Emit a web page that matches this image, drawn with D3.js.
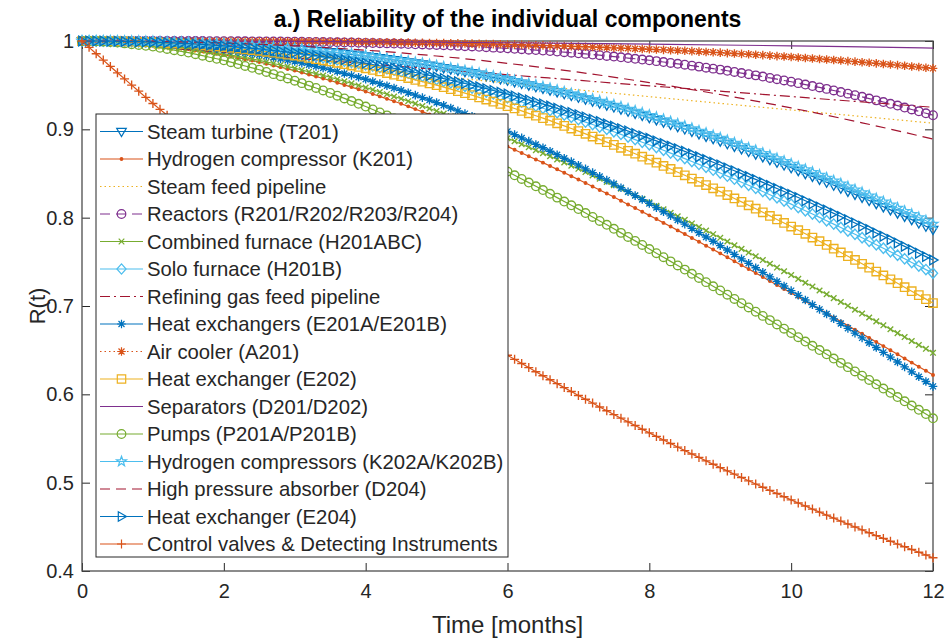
<!DOCTYPE html>
<meta charset="utf-8">
<style>
body { margin: 0; background: #fff; }
svg text { font-family: "Liberation Sans", Arial, sans-serif; }
</style>
<body>
<script src="https://d3js.org/d3.v7.min.js"></script>
<script>
var width = 949,
	height = 642,
	plotLeft = 82,
	plotRight = 933,
	plotTop = 41,
	plotBottom = 571;

// sample times: every 0.1 month for the marked curves, every month for the plain ones
var tFine = d3.range(121).map(function(i) { return i / 10; });
var tMonth = [0, 1, 2, 3, 4, 5, 6, 7, 8, 9, 10, 11, 12];
var xTicks = [0, 2, 4, 6, 8, 10, 12];
var yTicks = [0.4, 0.5, 0.6, 0.7, 0.8, 0.9, 1];

var names = [
	"Steam turbine (T201)",
	"Hydrogen compressor (K201)",
	"Steam feed pipeline",
	"Reactors (R201/R202/R203/R204)",
	"Combined furnace (H201ABC)",
	"Solo furnace (H201B)",
	"Refining gas feed pipeline",
	"Heat exchangers (E201A/E201B)",
	"Air cooler (A201)",
	"Heat exchanger (E202)",
	"Separators (D201/D202)",
	"Pumps (P201A/P201B)",
	"Hydrogen compressors (K202A/K202B)",
	"High pressure absorber (D204)",
	"Heat exchanger (E204)",
	"Control valves & Detecting Instruments"
];

var steamTurbine = [
	1, 1, 1, 1, 0.9999, 0.9999, 0.9998, 0.9997, 0.9996, 0.9995,
	0.9994, 0.9992, 0.9990, 0.9988, 0.9986, 0.9984, 0.9981, 0.9978, 0.9974, 0.9971,
	0.9968, 0.9963, 0.9959, 0.9954, 0.9950, 0.9945, 0.9939, 0.9933, 0.9926, 0.9920,
	0.9914, 0.9906, 0.9899, 0.9891, 0.9884, 0.9876, 0.9867, 0.9858, 0.9848, 0.9839,
	0.9830, 0.9819, 0.9808, 0.9797, 0.9786, 0.9775, 0.9762, 0.9749, 0.9737, 0.9724,
	0.9711, 0.9696, 0.9682, 0.9667, 0.9653, 0.9638, 0.9622, 0.9605, 0.9589, 0.9572,
	0.9556, 0.9538, 0.9519, 0.9501, 0.9482, 0.9464, 0.9444, 0.9424, 0.9403, 0.9383,
	0.9363, 0.9341, 0.9319, 0.9297, 0.9275, 0.9253, 0.9229, 0.9205, 0.9181, 0.9157,
	0.9133, 0.9107, 0.9081, 0.9056, 0.9030, 0.9004, 0.8976, 0.8949, 0.8921, 0.8894,
	0.8866, 0.8837, 0.8808, 0.8778, 0.8749, 0.8720, 0.8689, 0.8658, 0.8627, 0.8596,
	0.8565, 0.8532, 0.8499, 0.8467, 0.8434, 0.8401, 0.8367, 0.8333, 0.8298, 0.8264,
	0.8230, 0.8194, 0.8159, 0.8123, 0.8088, 0.8052, 0.8015, 0.7978, 0.7940, 0.7903,
	0.7866
];

var hydrogenCompressor = [
	1, 0.9999, 0.9998, 0.9996, 0.9993, 0.9989, 0.9983, 0.9977, 0.9970, 0.9964,
	0.9958, 0.9948, 0.9938, 0.9929, 0.9919, 0.9909, 0.9896, 0.9883, 0.9869, 0.9856,
	0.9843, 0.9827, 0.9811, 0.9794, 0.9778, 0.9762, 0.9743, 0.9723, 0.9704, 0.9684,
	0.9665, 0.9643, 0.9620, 0.9598, 0.9575, 0.9553, 0.9528, 0.9503, 0.9478, 0.9453,
	0.9428, 0.9400, 0.9373, 0.9345, 0.9318, 0.9290, 0.9260, 0.9229, 0.9199, 0.9169,
	0.9139, 0.9107, 0.9074, 0.9042, 0.9009, 0.8977, 0.8943, 0.8908, 0.8874, 0.8839,
	0.8805, 0.8769, 0.8732, 0.8696, 0.8659, 0.8623, 0.8585, 0.8547, 0.8508, 0.8470,
	0.8432, 0.8392, 0.8352, 0.8313, 0.8273, 0.8233, 0.8192, 0.8150, 0.8109, 0.8067,
	0.8026, 0.7984, 0.7941, 0.7899, 0.7856, 0.7814, 0.7770, 0.7727, 0.7683, 0.7640,
	0.7596, 0.7551, 0.7507, 0.7462, 0.7418, 0.7373, 0.7328, 0.7283, 0.7237, 0.7192,
	0.7147, 0.7101, 0.7055, 0.7009, 0.6963, 0.6917, 0.6871, 0.6825, 0.6778, 0.6732,
	0.6686, 0.6639, 0.6593, 0.6546, 0.6500, 0.6453, 0.6406, 0.6359, 0.6313, 0.6266,
	0.6219
];

var steamFeedPipeline = [1, 0.9919, 0.9839, 0.9759, 0.9680, 0.9602, 0.9524, 0.9447, 0.9370, 0.9294, 0.9219, 0.9145, 0.9070];

var reactors = [
	1, 1, 1, 1, 1, 1, 1, 1, 1, 1,
	1, 1, 1, 1, 0.9999, 0.9999, 0.9999, 0.9999, 0.9998, 0.9998,
	0.9998, 0.9998, 0.9997, 0.9997, 0.9996, 0.9996, 0.9995, 0.9994, 0.9994, 0.9993,
	0.9992, 0.9991, 0.9990, 0.9989, 0.9988, 0.9987, 0.9985, 0.9984, 0.9982, 0.9981,
	0.9979, 0.9977, 0.9975, 0.9973, 0.9971, 0.9969, 0.9966, 0.9963, 0.9961, 0.9958,
	0.9955, 0.9952, 0.9948, 0.9945, 0.9941, 0.9938, 0.9934, 0.9930, 0.9925, 0.9921,
	0.9917, 0.9912, 0.9907, 0.9902, 0.9897, 0.9892, 0.9886, 0.9880, 0.9873, 0.9867,
	0.9861, 0.9854, 0.9846, 0.9839, 0.9831, 0.9824, 0.9816, 0.9807, 0.9799, 0.9790,
	0.9782, 0.9772, 0.9762, 0.9752, 0.9742, 0.9732, 0.9721, 0.9710, 0.9698, 0.9687,
	0.9676, 0.9663, 0.9650, 0.9637, 0.9624, 0.9611, 0.9597, 0.9582, 0.9568, 0.9553,
	0.9539, 0.9523, 0.9507, 0.9490, 0.9474, 0.9458, 0.9440, 0.9422, 0.9404, 0.9386,
	0.9368, 0.9348, 0.9328, 0.9309, 0.9289, 0.9269, 0.9247, 0.9225, 0.9204, 0.9182,
	0.9160
];

var combinedFurnace = [
	1, 1, 0.9998, 0.9996, 0.9993, 0.9990, 0.9984, 0.9978, 0.9973, 0.9967,
	0.9961, 0.9952, 0.9943, 0.9935, 0.9926, 0.9917, 0.9905, 0.9893, 0.9880, 0.9868,
	0.9856, 0.9841, 0.9826, 0.9811, 0.9796, 0.9781, 0.9763, 0.9745, 0.9728, 0.9710,
	0.9692, 0.9672, 0.9651, 0.9631, 0.9610, 0.9590, 0.9567, 0.9544, 0.9520, 0.9497,
	0.9474, 0.9449, 0.9423, 0.9398, 0.9372, 0.9347, 0.9319, 0.9291, 0.9264, 0.9236,
	0.9208, 0.9178, 0.9148, 0.9119, 0.9089, 0.9059, 0.9027, 0.8995, 0.8963, 0.8931,
	0.8899, 0.8865, 0.8831, 0.8798, 0.8764, 0.8730, 0.8695, 0.8659, 0.8624, 0.8588,
	0.8553, 0.8516, 0.8479, 0.8441, 0.8404, 0.8367, 0.8329, 0.8290, 0.8252, 0.8213,
	0.8175, 0.8135, 0.8095, 0.8056, 0.8016, 0.7976, 0.7935, 0.7894, 0.7854, 0.7813,
	0.7772, 0.7730, 0.7688, 0.7647, 0.7605, 0.7563, 0.7520, 0.7478, 0.7435, 0.7393,
	0.7350, 0.7307, 0.7263, 0.7220, 0.7176, 0.7133, 0.7089, 0.7045, 0.7002, 0.6958,
	0.6914, 0.6870, 0.6826, 0.6781, 0.6737, 0.6693, 0.6648, 0.6604, 0.6559, 0.6515,
	0.6470
];

var soloFurnace = [
	1, 1, 1, 0.9999, 0.9998, 0.9997, 0.9995, 0.9993, 0.9991, 0.9989,
	0.9987, 0.9983, 0.9980, 0.9976, 0.9973, 0.9969, 0.9963, 0.9958, 0.9952, 0.9947,
	0.9941, 0.9934, 0.9926, 0.9919, 0.9911, 0.9904, 0.9895, 0.9885, 0.9876, 0.9866,
	0.9857, 0.9845, 0.9834, 0.9822, 0.9811, 0.9799, 0.9786, 0.9772, 0.9759, 0.9745,
	0.9732, 0.9716, 0.9701, 0.9685, 0.9670, 0.9654, 0.9636, 0.9618, 0.9601, 0.9583,
	0.9565, 0.9545, 0.9526, 0.9506, 0.9487, 0.9467, 0.9445, 0.9423, 0.9402, 0.9380,
	0.9358, 0.9334, 0.9310, 0.9287, 0.9263, 0.9239, 0.9213, 0.9187, 0.9162, 0.9136,
	0.9110, 0.9082, 0.9055, 0.9027, 0.9000, 0.8972, 0.8943, 0.8913, 0.8884, 0.8854,
	0.8825, 0.8794, 0.8763, 0.8731, 0.8700, 0.8669, 0.8636, 0.8603, 0.8571, 0.8538,
	0.8505, 0.8470, 0.8436, 0.8401, 0.8367, 0.8332, 0.8296, 0.8260, 0.8225, 0.8189,
	0.8153, 0.8116, 0.8078, 0.8041, 0.8003, 0.7966, 0.7927, 0.7889, 0.7850, 0.7812,
	0.7773, 0.7733, 0.7694, 0.7654, 0.7615, 0.7575, 0.7534, 0.7493, 0.7453, 0.7412,
	0.7371
];

var refiningGasPipeline = [1, 0.9935, 0.9871, 0.9807, 0.9743, 0.9680, 0.9618, 0.9555, 0.9493, 0.9432, 0.9371, 0.9310, 0.9250];

var heatExchangersE201 = [
	1, 1, 0.9999, 0.9998, 0.9997, 0.9995, 0.9992, 0.9989, 0.9985, 0.9982,
	0.9979, 0.9973, 0.9967, 0.9961, 0.9955, 0.9949, 0.9940, 0.9931, 0.9922, 0.9913,
	0.9904, 0.9892, 0.9880, 0.9868, 0.9856, 0.9844, 0.9829, 0.9814, 0.9798, 0.9783,
	0.9768, 0.9750, 0.9731, 0.9713, 0.9694, 0.9676, 0.9654, 0.9632, 0.9611, 0.9589,
	0.9567, 0.9542, 0.9517, 0.9493, 0.9468, 0.9443, 0.9415, 0.9387, 0.9359, 0.9331,
	0.9303, 0.9272, 0.9241, 0.9209, 0.9178, 0.9147, 0.9113, 0.9079, 0.9045, 0.9011,
	0.8977, 0.8940, 0.8903, 0.8866, 0.8829, 0.8792, 0.8752, 0.8713, 0.8673, 0.8634,
	0.8594, 0.8552, 0.8510, 0.8467, 0.8425, 0.8383, 0.8339, 0.8294, 0.8250, 0.8205,
	0.8161, 0.8114, 0.8067, 0.8021, 0.7974, 0.7927, 0.7878, 0.7830, 0.7781, 0.7733,
	0.7684, 0.7634, 0.7584, 0.7533, 0.7483, 0.7433, 0.7381, 0.7329, 0.7278, 0.7226,
	0.7174, 0.7121, 0.7068, 0.7015, 0.6962, 0.6909, 0.6855, 0.6801, 0.6747, 0.6693,
	0.6639, 0.6584, 0.6530, 0.6475, 0.6421, 0.6366, 0.6311, 0.6255, 0.6200, 0.6145,
	0.6090
];

var airCooler = [
	1, 1, 1, 1, 1, 1, 1, 1, 1, 1,
	1, 1, 1, 1, 0.9999, 0.9999, 0.9999, 0.9999, 0.9999, 0.9999,
	0.9999, 0.9999, 0.9998, 0.9998, 0.9998, 0.9997, 0.9997, 0.9996, 0.9996, 0.9995,
	0.9995, 0.9994, 0.9994, 0.9993, 0.9993, 0.9992, 0.9991, 0.9990, 0.9990, 0.9989,
	0.9988, 0.9987, 0.9986, 0.9985, 0.9984, 0.9983, 0.9982, 0.9981, 0.9979, 0.9978,
	0.9977, 0.9976, 0.9974, 0.9973, 0.9971, 0.9970, 0.9968, 0.9966, 0.9965, 0.9963,
	0.9961, 0.9959, 0.9957, 0.9954, 0.9952, 0.9950, 0.9948, 0.9945, 0.9943, 0.9940,
	0.9938, 0.9935, 0.9932, 0.9929, 0.9926, 0.9923, 0.9920, 0.9917, 0.9913, 0.9910,
	0.9907, 0.9903, 0.9900, 0.9896, 0.9893, 0.9889, 0.9885, 0.9880, 0.9876, 0.9872,
	0.9868, 0.9863, 0.9859, 0.9854, 0.9850, 0.9845, 0.9840, 0.9835, 0.9829, 0.9824,
	0.9819, 0.9813, 0.9808, 0.9802, 0.9797, 0.9791, 0.9785, 0.9779, 0.9772, 0.9766,
	0.9760, 0.9753, 0.9747, 0.9740, 0.9734, 0.9727, 0.9720, 0.9712, 0.9705, 0.9697,
	0.9690
];

var heatExchangerE202 = [
	1, 1, 1, 0.9999, 0.9998, 0.9997, 0.9995, 0.9992, 0.9990, 0.9987,
	0.9985, 0.9981, 0.9977, 0.9972, 0.9968, 0.9964, 0.9958, 0.9951, 0.9945, 0.9938,
	0.9932, 0.9923, 0.9915, 0.9906, 0.9898, 0.9889, 0.9878, 0.9867, 0.9857, 0.9846,
	0.9835, 0.9822, 0.9809, 0.9795, 0.9782, 0.9769, 0.9753, 0.9738, 0.9722, 0.9707,
	0.9691, 0.9673, 0.9655, 0.9637, 0.9619, 0.9601, 0.9581, 0.9560, 0.9540, 0.9520,
	0.9500, 0.9477, 0.9455, 0.9432, 0.9410, 0.9387, 0.9362, 0.9337, 0.9313, 0.9288,
	0.9263, 0.9236, 0.9209, 0.9181, 0.9154, 0.9127, 0.9098, 0.9068, 0.9039, 0.9009,
	0.8980, 0.8949, 0.8918, 0.8886, 0.8855, 0.8824, 0.8791, 0.8757, 0.8724, 0.8690,
	0.8657, 0.8622, 0.8586, 0.8551, 0.8515, 0.8480, 0.8443, 0.8406, 0.8369, 0.8332,
	0.8295, 0.8256, 0.8217, 0.8179, 0.8140, 0.8101, 0.8061, 0.8020, 0.7980, 0.7940,
	0.7900, 0.7858, 0.7817, 0.7775, 0.7734, 0.7692, 0.7649, 0.7606, 0.7564, 0.7521,
	0.7478, 0.7434, 0.7390, 0.7346, 0.7302, 0.7258, 0.7213, 0.7168, 0.7123, 0.7078,
	0.7033
];

var separators = [1, 0.9999, 0.9998, 0.9995, 0.9991, 0.9986, 0.9980, 0.9973, 0.9964, 0.9955, 0.9945, 0.9933, 0.9920];

var pumps = [
	1, 0.9999, 0.9997, 0.9993, 0.9988, 0.9982, 0.9973, 0.9964, 0.9955, 0.9946,
	0.9937, 0.9923, 0.9910, 0.9896, 0.9883, 0.9869, 0.9851, 0.9834, 0.9816, 0.9799,
	0.9781, 0.9760, 0.9739, 0.9717, 0.9696, 0.9675, 0.9650, 0.9625, 0.9601, 0.9576,
	0.9551, 0.9523, 0.9495, 0.9468, 0.9440, 0.9412, 0.9381, 0.9350, 0.9320, 0.9289,
	0.9258, 0.9225, 0.9191, 0.9158, 0.9124, 0.9091, 0.9055, 0.9019, 0.8984, 0.8948,
	0.8912, 0.8874, 0.8836, 0.8798, 0.8760, 0.8722, 0.8682, 0.8642, 0.8602, 0.8562,
	0.8522, 0.8480, 0.8438, 0.8397, 0.8355, 0.8313, 0.8270, 0.8227, 0.8183, 0.8140,
	0.8097, 0.8052, 0.8008, 0.7963, 0.7919, 0.7874, 0.7828, 0.7782, 0.7737, 0.7691,
	0.7645, 0.7598, 0.7552, 0.7505, 0.7459, 0.7412, 0.7365, 0.7318, 0.7270, 0.7223,
	0.7176, 0.7128, 0.7080, 0.7032, 0.6984, 0.6936, 0.6888, 0.6840, 0.6791, 0.6743,
	0.6695, 0.6647, 0.6598, 0.6550, 0.6501, 0.6453, 0.6405, 0.6356, 0.6308, 0.6259,
	0.6211, 0.6163, 0.6114, 0.6066, 0.6017, 0.5969, 0.5921, 0.5873, 0.5825, 0.5777,
	0.5729
];

var hydrogenCompressorsK202 = [
	1, 1, 1, 1, 0.9999, 0.9999, 0.9998, 0.9997, 0.9996, 0.9995,
	0.9994, 0.9992, 0.9990, 0.9988, 0.9986, 0.9984, 0.9981, 0.9978, 0.9975, 0.9972,
	0.9969, 0.9964, 0.9960, 0.9955, 0.9951, 0.9946, 0.9940, 0.9934, 0.9929, 0.9923,
	0.9917, 0.9910, 0.9902, 0.9895, 0.9887, 0.9880, 0.9871, 0.9862, 0.9853, 0.9844,
	0.9835, 0.9824, 0.9814, 0.9803, 0.9793, 0.9782, 0.9770, 0.9757, 0.9745, 0.9732,
	0.9720, 0.9706, 0.9692, 0.9678, 0.9664, 0.9650, 0.9634, 0.9618, 0.9602, 0.9586,
	0.9570, 0.9552, 0.9534, 0.9517, 0.9499, 0.9481, 0.9462, 0.9442, 0.9423, 0.9403,
	0.9384, 0.9363, 0.9341, 0.9320, 0.9298, 0.9277, 0.9254, 0.9231, 0.9207, 0.9184,
	0.9161, 0.9136, 0.9111, 0.9086, 0.9061, 0.9036, 0.9009, 0.8982, 0.8956, 0.8929,
	0.8902, 0.8874, 0.8845, 0.8817, 0.8788, 0.8760, 0.8730, 0.8700, 0.8669, 0.8639,
	0.8609, 0.8577, 0.8545, 0.8514, 0.8482, 0.8450, 0.8417, 0.8384, 0.8350, 0.8317,
	0.8284, 0.8249, 0.8214, 0.8180, 0.8145, 0.8110, 0.8074, 0.8038, 0.8001, 0.7965,
	0.7929
];

var highPressureAbsorber = [1, 0.9995, 0.9977, 0.9944, 0.9896, 0.9830, 0.9747, 0.9647, 0.9529, 0.9394, 0.9242, 0.9074, 0.8890];

var heatExchangerE204 = [
	1, 1, 1, 0.9999, 0.9998, 0.9997, 0.9995, 0.9993, 0.9992, 0.9990,
	0.9988, 0.9985, 0.9981, 0.9978, 0.9974, 0.9971, 0.9966, 0.9961, 0.9955, 0.9950,
	0.9945, 0.9938, 0.9931, 0.9924, 0.9917, 0.9910, 0.9901, 0.9892, 0.9884, 0.9875,
	0.9866, 0.9855, 0.9844, 0.9834, 0.9823, 0.9812, 0.9799, 0.9787, 0.9774, 0.9761,
	0.9749, 0.9734, 0.9720, 0.9705, 0.9691, 0.9676, 0.9659, 0.9643, 0.9626, 0.9610,
	0.9593, 0.9575, 0.9556, 0.9538, 0.9519, 0.9501, 0.9481, 0.9460, 0.9440, 0.9419,
	0.9399, 0.9377, 0.9354, 0.9332, 0.9309, 0.9287, 0.9263, 0.9239, 0.9214, 0.9190,
	0.9166, 0.9140, 0.9114, 0.9088, 0.9062, 0.9036, 0.9008, 0.8981, 0.8953, 0.8926,
	0.8898, 0.8869, 0.8839, 0.8810, 0.8780, 0.8751, 0.8720, 0.8689, 0.8658, 0.8627,
	0.8596, 0.8563, 0.8531, 0.8498, 0.8465, 0.8433, 0.8399, 0.8365, 0.8331, 0.8297,
	0.8263, 0.8228, 0.8192, 0.8157, 0.8121, 0.8086, 0.8049, 0.8013, 0.7976, 0.7940,
	0.7903, 0.7865, 0.7827, 0.7790, 0.7752, 0.7714, 0.7675, 0.7636, 0.7598, 0.7559,
	0.7520
];

var controlValves = [
	1, 0.9928, 0.9856, 0.9784, 0.9712, 0.9640, 0.9571, 0.9501, 0.9432, 0.9362,
	0.9293, 0.9226, 0.9159, 0.9093, 0.9026, 0.8959, 0.8895, 0.8830, 0.8766, 0.8701,
	0.8637, 0.8575, 0.8513, 0.8450, 0.8388, 0.8326, 0.8266, 0.8206, 0.8146, 0.8086,
	0.8026, 0.7968, 0.7910, 0.7853, 0.7795, 0.7737, 0.7681, 0.7626, 0.7570, 0.7515,
	0.7459, 0.7405, 0.7352, 0.7298, 0.7245, 0.7191, 0.7139, 0.7087, 0.7036, 0.6984,
	0.6932, 0.6882, 0.6832, 0.6782, 0.6732, 0.6682, 0.6634, 0.6586, 0.6538, 0.6490,
	0.6442, 0.6396, 0.6349, 0.6303, 0.6256, 0.6210, 0.6165, 0.6121, 0.6076, 0.6032,
	0.5987, 0.5944, 0.5901, 0.5857, 0.5814, 0.5771, 0.5730, 0.5688, 0.5647, 0.5605,
	0.5564, 0.5524, 0.5483, 0.5443, 0.5403, 0.5363, 0.5324, 0.5286, 0.5247, 0.5209,
	0.5170, 0.5133, 0.5096, 0.5058, 0.5021, 0.4984, 0.4948, 0.4912, 0.4877, 0.4841,
	0.4805, 0.4770, 0.4736, 0.4701, 0.4667, 0.4632, 0.4599, 0.4565, 0.4532, 0.4498,
	0.4465, 0.4433, 0.4401, 0.4369, 0.4337, 0.4305, 0.4274, 0.4243, 0.4212, 0.4181,
	0.4150
];

var seriesValues = [
	steamTurbine, hydrogenCompressor, steamFeedPipeline, reactors,
	combinedFurnace, soloFurnace, refiningGasPipeline, heatExchangersE201,
	airCooler, heatExchangerE202, separators, pumps,
	hydrogenCompressorsK202, highPressureAbsorber, heatExchangerE204, controlValves
];

// matlab default colour order, line style and marker per series
var styles = [
	{color: "#0072BD", dash: null, marker: "v"},
	{color: "#D95319", dash: null, marker: "."},
	{color: "#EDB120", dash: "1.5,3", marker: null},
	{color: "#7E2F8E", dash: "10,6", marker: "o"},
	{color: "#77AC30", dash: null, marker: "x"},
	{color: "#4DBEEE", dash: null, marker: "d"},
	{color: "#A2142F", dash: "10,4,2,4", marker: null},
	{color: "#0072BD", dash: null, marker: "*"},
	{color: "#D95319", dash: "1.5,3", marker: "*"},
	{color: "#EDB120", dash: null, marker: "s"},
	{color: "#7E2F8E", dash: null, marker: null},
	{color: "#77AC30", dash: null, marker: "o"},
	{color: "#4DBEEE", dash: null, marker: "p"},
	{color: "#A2142F", dash: "10,6", marker: null},
	{color: "#0072BD", dash: null, marker: ">"},
	{color: "#D95319", dash: null, marker: "+"}
];

var x = d3.scaleLinear().domain([0, 12]).range([plotLeft, plotRight]);
var y = d3.scaleLinear().domain([0.4, 1]).range([plotBottom, plotTop]);

var svg = d3.select("body").append("svg")
			.attr("width", width)
			.attr("height", height)
			.style("background", "#fff");

var axisColor = "#262626";

function styleAxis(g) {
	g.select(".domain").remove();
	g.selectAll(".tick line").attr("stroke", axisColor).attr("stroke-width", 1);
	g.selectAll("text")
		.attr("font-family", "Liberation Sans, Arial, sans-serif")
		.attr("font-size", 20)
		.attr("fill", axisColor);
}

svg.append("g")
	.attr("transform", "translate(0," + plotBottom + ")")
	.call(d3.axisBottom(x).tickValues(xTicks).tickSize(-8).tickSizeOuter(0).tickPadding(13)
		.tickFormat(function(d) { return String(d); }))
	.call(styleAxis);

svg.append("g")
	.attr("transform", "translate(0," + plotTop + ")")
	.call(d3.axisTop(x).tickValues(xTicks).tickSize(-8).tickSizeOuter(0).tickFormat(""))
	.call(styleAxis);

svg.append("g")
	.attr("transform", "translate(" + plotLeft + ",0)")
	.call(d3.axisLeft(y).tickValues(yTicks).tickSize(-8).tickSizeOuter(0).tickPadding(8)
		.tickFormat(function(d) { return String(d); }))
	.call(styleAxis);

svg.append("g")
	.attr("transform", "translate(" + plotRight + ",0)")
	.call(d3.axisRight(y).tickValues(yTicks).tickSize(-8).tickSizeOuter(0).tickFormat(""))
	.call(styleAxis);

svg.append("rect")
	.attr("x", plotLeft)
	.attr("y", plotTop)
	.attr("width", plotRight - plotLeft)
	.attr("height", plotBottom - plotTop)
	.style("fill", "none")
	.style("stroke", "#4d4d4d")
	.style("stroke-width", 1.3);

svg.append("text")
	.attr("x", (plotLeft + plotRight) / 2)
	.attr("y", 27)
	.attr("text-anchor", "middle")
	.attr("font-size", 23)
	.attr("font-weight", "bold")
	.attr("fill", "#000")
	.text("a.) Reliability of the individual components");

svg.append("text")
	.attr("x", (plotLeft + plotRight) / 2)
	.attr("y", 633)
	.attr("text-anchor", "middle")
	.attr("font-size", 24)
	.attr("fill", axisColor)
	.text("Time [months]");

svg.append("text")
	.attr("transform", "translate(45," + (plotTop + plotBottom) / 2 + ")rotate(-90)")
	.attr("text-anchor", "middle")
	.attr("font-size", 22)
	.attr("fill", axisColor)
	.text("R(t)");

function markerD(type) {
	var p = d3.path(), i, a, r;
	if (type === "o") {
		p.moveTo(4.3, 0); p.arc(0, 0, 4.3, 0, 2 * Math.PI);
	} else if (type === ".") {
		p.moveTo(1.3, 0); p.arc(0, 0, 1.3, 0, 2 * Math.PI);
	} else if (type === "s") {
		p.rect(-4.2, -4.2, 8.4, 8.4);
	} else if (type === "d") {
		p.moveTo(0, -5.2); p.lineTo(4.6, 0); p.lineTo(0, 5.2); p.lineTo(-4.6, 0); p.closePath();
	} else if (type === "v") {
		p.moveTo(-4.8, -3.2); p.lineTo(4.8, -3.2); p.lineTo(0, 5); p.closePath();
	} else if (type === ">") {
		p.moveTo(-3.2, -4.8); p.lineTo(-3.2, 4.8); p.lineTo(5, 0); p.closePath();
	} else if (type === "x") {
		p.moveTo(-2.8, -2.8); p.lineTo(2.8, 2.8); p.moveTo(-2.8, 2.8); p.lineTo(2.8, -2.8);
	} else if (type === "+") {
		p.moveTo(-4.5, 0); p.lineTo(4.5, 0); p.moveTo(0, -4.5); p.lineTo(0, 4.5);
	} else if (type === "*") {
		p.moveTo(-4.3, 0); p.lineTo(4.3, 0); p.moveTo(0, -4.3); p.lineTo(0, 4.3);
		p.moveTo(-3, -3); p.lineTo(3, 3); p.moveTo(-3, 3); p.lineTo(3, -3);
	} else if (type === "p") {
		for (i = 0; i < 10; i++) {
			a = -Math.PI / 2 + i * Math.PI / 5;
			r = i % 2 ? 2.1 : 5.2;
			if (i === 0) p.moveTo(r * Math.cos(a), r * Math.sin(a));
			else p.lineTo(r * Math.cos(a), r * Math.sin(a));
		}
		p.closePath();
	}
	return p.toString();
}

var lineFine = d3.line()
	.x(function(d) { return x(d[0]); })
	.y(function(d) { return y(d[1]); });
var lineSmooth = d3.line()
	.curve(d3.curveMonotoneX)
	.x(function(d) { return x(d[0]); })
	.y(function(d) { return y(d[1]); });

var plot = svg.append("g");

seriesValues.forEach(function(vals, i) {
	var st = styles[i];
	var times = vals.length === tFine.length ? tFine : tMonth;
	var pts = vals.map(function(v, j) { return [times[j], v]; });
	var g = plot.append("g");

	g.append("path")
		.datum(pts)
		.attr("d", vals.length === tFine.length ? lineFine : lineSmooth)
		.style("fill", "none")
		.style("stroke", st.color)
		.style("stroke-width", 1.2)
		.style("stroke-dasharray", st.dash);

	if (st.marker) {
		g.selectAll("path.mk")
			.data(pts)
			.join("path")
			.attr("class", "mk")
			.attr("d", markerD(st.marker))
			.attr("transform", function(d) { return "translate(" + x(d[0]) + "," + y(d[1]) + ")"; })
			.style("fill", st.marker === "." ? st.color : "none")
			.style("stroke", st.color)
			.style("stroke-width", 1.35);
	}
});

// legend
var legend = svg.append("g");
var lgX = 96, lgY = 114, lgRow = 27.5;

legend.append("rect")
	.attr("x", lgX)
	.attr("y", lgY)
	.attr("width", 412)
	.attr("height", 443)
	.style("fill", "#fff")
	.style("stroke", axisColor)
	.style("stroke-width", 1);

names.forEach(function(name, i) {
	var st = styles[i];
	var cy = lgY + 17.5 + i * lgRow;
	var row = legend.append("g");
	row.append("line")
		.attr("x1", lgX + 4)
		.attr("x2", lgX + 47)
		.attr("y1", cy)
		.attr("y2", cy)
		.style("stroke", st.color)
		.style("stroke-width", 1.2)
		.style("stroke-dasharray", st.dash);
	if (st.marker) {
		row.append("path")
			.attr("d", markerD(st.marker))
			.attr("transform", "translate(" + (lgX + 25.5) + "," + cy + ")")
			.style("fill", st.marker === "." ? st.color : "none")
			.style("stroke", st.color)
			.style("stroke-width", 1.2);
	}
	row.append("text")
		.attr("x", lgX + 51)
		.attr("y", cy)
		.attr("dy", "0.35em")
		.attr("font-size", 20.3)
		.attr("fill", axisColor)
		.text(name);
});
</script>
</body>
